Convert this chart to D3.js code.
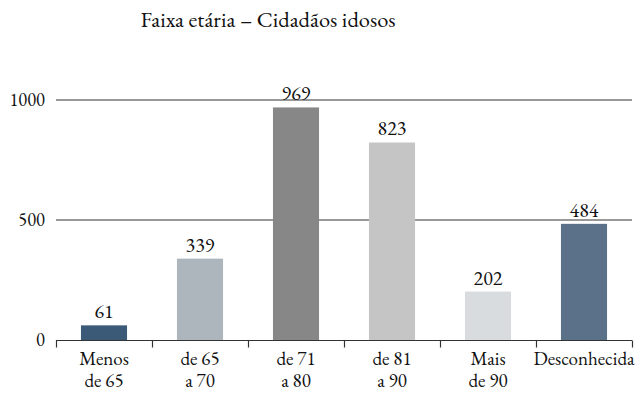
<!DOCTYPE html>
<html>
<head>
<meta charset="utf-8">
<script src="https://cdn.jsdelivr.net/npm/d3@7"></script>
<style>
  html, body { margin: 0; padding: 0; background: #fff; }
</style>
</head>
<body>
<svg id="chart" width="636" height="398"></svg>
<script>
// Age groups of elderly citizens
const categories = [["Menos", "de 65"], ["de 65", "a 70"], ["de 71", "a 80"], ["de 81", "a 90"], ["Mais", "de 90"], ["Desconhecida"]];
const values = [61, 339, 969, 823, 202, 484];
const barColors = ["#3b5a77", "#adb6bd", "#878787", "#c5c5c5", "#d8dcdf", "#5a7189"];
const yTicks = [0, 500, 1000];
const title = "Faixa etária – Cidadãos idosos";

const FONT = "'EB Garamond', 'Liberation Serif', serif";
const INK = "#111";

const svg = d3.select("#chart");

const x = d3.scaleBand().domain(d3.range(categories.length)).range([56, 632]).paddingInner(0.52).paddingOuter(0.26);
const y = d3.scaleLinear().domain([0, 1000]).range([340, 100]);

// Title
svg.append("text")
  .attr("x", 268).attr("y", 27)
  .attr("text-anchor", "middle")
  .style("font-family", FONT).style("font-size", "22.5px").style("fill", INK)
  .text(title);

// Horizontal gridlines at 500 and 1000
svg.append("g")
  .selectAll("line")
  .data(yTicks.filter(t => t > 0))
  .join("line")
  .attr("x1", 56).attr("x2", 632)
  .attr("y1", d => y(d)).attr("y2", d => y(d))
  .attr("stroke", "#333").attr("stroke-width", 1.2);

// Y axis labels (no axis line)
const yAxis = d3.axisLeft(y).tickValues(yTicks).tickSize(0).tickPadding(11).tickFormat(d3.format("d"));
const gy = svg.append("g").attr("transform", "translate(56,0)").call(yAxis);
gy.select(".domain").remove();
gy.selectAll("text").style("font-size", "18.5px").style("font-family", FONT).style("fill", INK);

// Bars
svg.append("g")
  .selectAll("rect")
  .data(values)
  .join("rect")
  .attr("x", (d, i) => x(i))
  .attr("width", x.bandwidth())
  .attr("y", d => y(d))
  .attr("height", d => y(0) - y(d))
  .attr("fill", (d, i) => barColors[i]);

// Value labels
svg.append("g")
  .selectAll("text")
  .data(values)
  .join("text")
  .attr("x", (d, i) => x(i) + x.bandwidth() / 2)
  .attr("y", d => y(d) - 7)
  .attr("text-anchor", "middle")
  .style("font-family", FONT).style("font-size", "20px").style("fill", INK)
  .text(d => d);

// Bottom axis: baseline and tick marks between groups
const edge = d3.scaleLinear().domain([0, categories.length]).range([56, 632]);
const gx = svg.append("g").attr("transform", "translate(0,340.5)");
gx.append("line").attr("x1", 56).attr("x2", 632).attr("stroke", "#333").attr("stroke-width", 1.2);
gx.selectAll("line.tick")
  .data(d3.range(categories.length + 1))
  .join("line")
  .attr("class", "tick")
  .attr("x1", d => Math.round(edge(d)) + 0.5)
  .attr("x2", d => Math.round(edge(d)) + 0.5)
  .attr("y1", 0).attr("y2", 7)
  .attr("stroke", "#333").attr("stroke-width", 1.2);

// Category labels (one or two lines)
const labels = svg.append("g").selectAll("text")
  .data(categories)
  .join("text")
  .attr("text-anchor", "middle")
  .attr("transform", (d, i) => `translate(${x(i) + x.bandwidth() / 2},365)`)
  .style("font-family", FONT).style("font-size", "19px").style("fill", INK);
labels.selectAll("tspan")
  .data(d => d)
  .join("tspan")
  .attr("x", 0)
  .attr("dy", (d, j) => j === 0 ? 0 : 22)
  .text(d => d);
</script>
</body>
</html>
